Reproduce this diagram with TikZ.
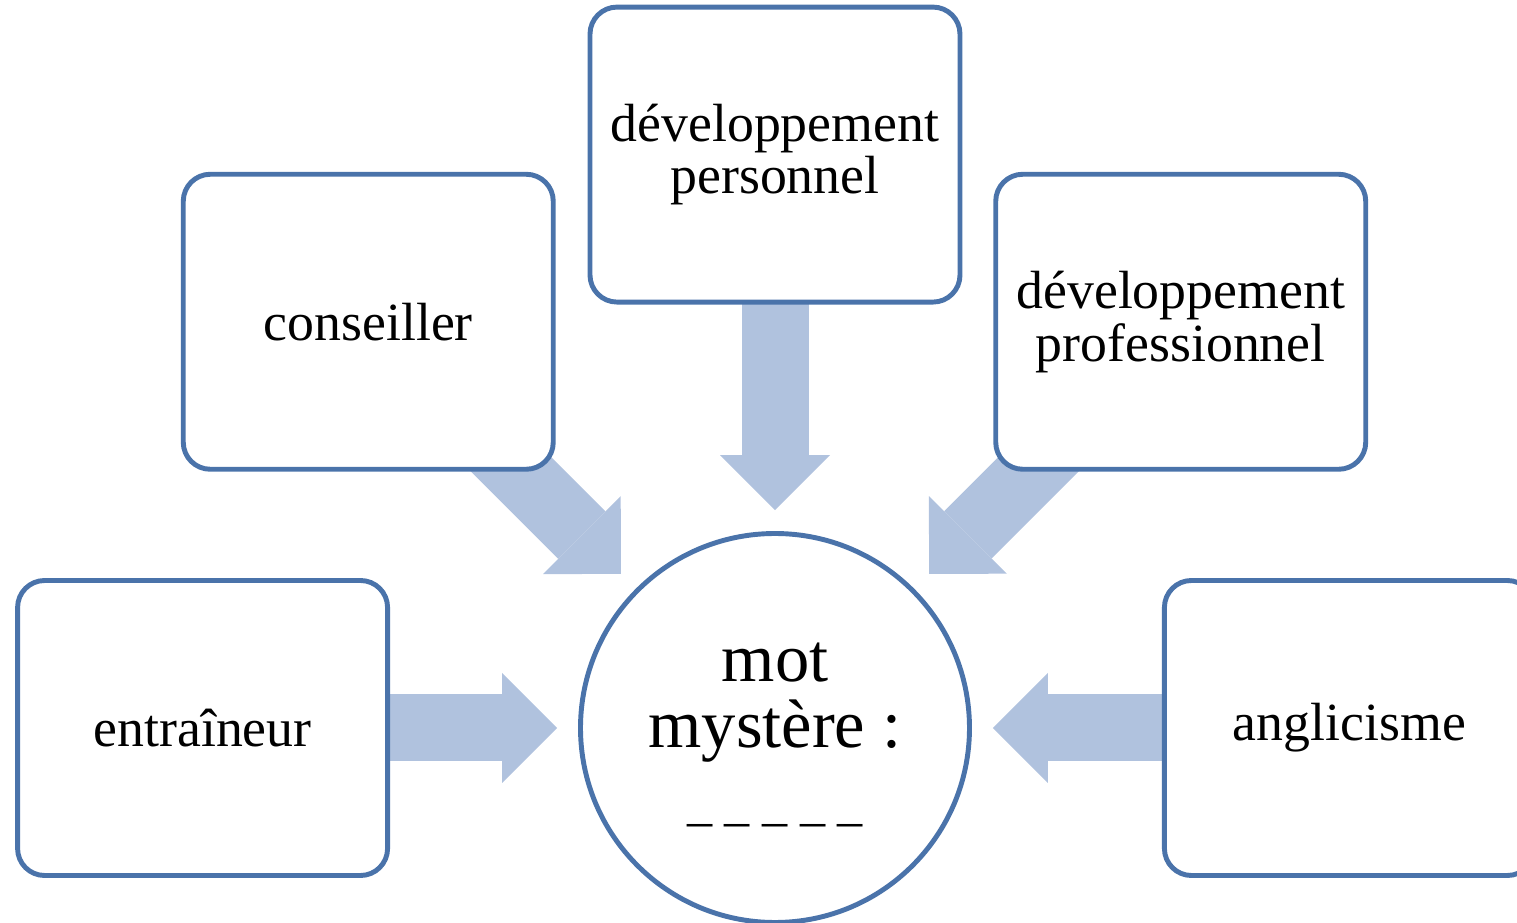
\documentclass[tikz,border=0pt]{standalone}
\usepackage{fontspec}
\setmainfont{Liberation Serif}
\usepackage{tikz}
\usetikzlibrary{shapes.geometric, arrows.meta, positioning, backgrounds}
\definecolor{edgeblue}{RGB}{74,115,170}
\definecolor{arrowblue}{RGB}{176,194,222}
\tikzstyle{word} = [rectangle, rounded corners=0.27cm, minimum width=3.70cm, minimum height=2.95cm, text centered, align=center, draw=edgeblue, line width=1.4pt, fill=white, font=\fontsize{15.3}{15}\selectfont]
\tikzstyle{mystery} = [circle, minimum size=3.89cm, inner sep=0pt, text centered, align=center, draw=edgeblue, line width=1.4pt, fill=white, font=\fontsize{19.5}{19}\selectfont]
\tikzstyle{arrow} = [line width=0.67cm, draw=arrowblue, -{Triangle[length=0.55cm, width=1.1cm, line width=0pt]}, shorten >=0.21cm]

\begin{document}
\begin{tikzpicture}
\useasboundingbox (0,0) rectangle (15.17,9.23);
\node (mot) [mystery] at (7.75,1.95) {\rule{0pt}{14.7pt}mot\\mystère :\\[1.6pt]\fontsize{14.3}{14}\selectfont\_ \_ \_ \_ \_};
\node (entraineur) [word, left=1.88cm of mot] {entraîneur};
\node (anglicisme) [word, right=1.90cm of mot] {anglicisme};
\node (conseiller) [word, above left=1.17cm and 0.80cm of mot] {conseiller};
\node (perso) [word, above=2.265cm of mot] {développement\\personnel};
\node (pro) [word, above right=1.17cm and 0.79cm of mot] {développement\\professionnel};
\begin{scope}[on background layer]
\draw [arrow] (entraineur.center) -- (mot);
\draw [arrow] (conseiller.center) -- (mot);
\draw [arrow] (perso.center) -- (mot);
\draw [arrow] (pro.center) -- (mot);
\draw [arrow] (anglicisme.center) -- (mot);
\end{scope}
\end{tikzpicture}
\end{document}
